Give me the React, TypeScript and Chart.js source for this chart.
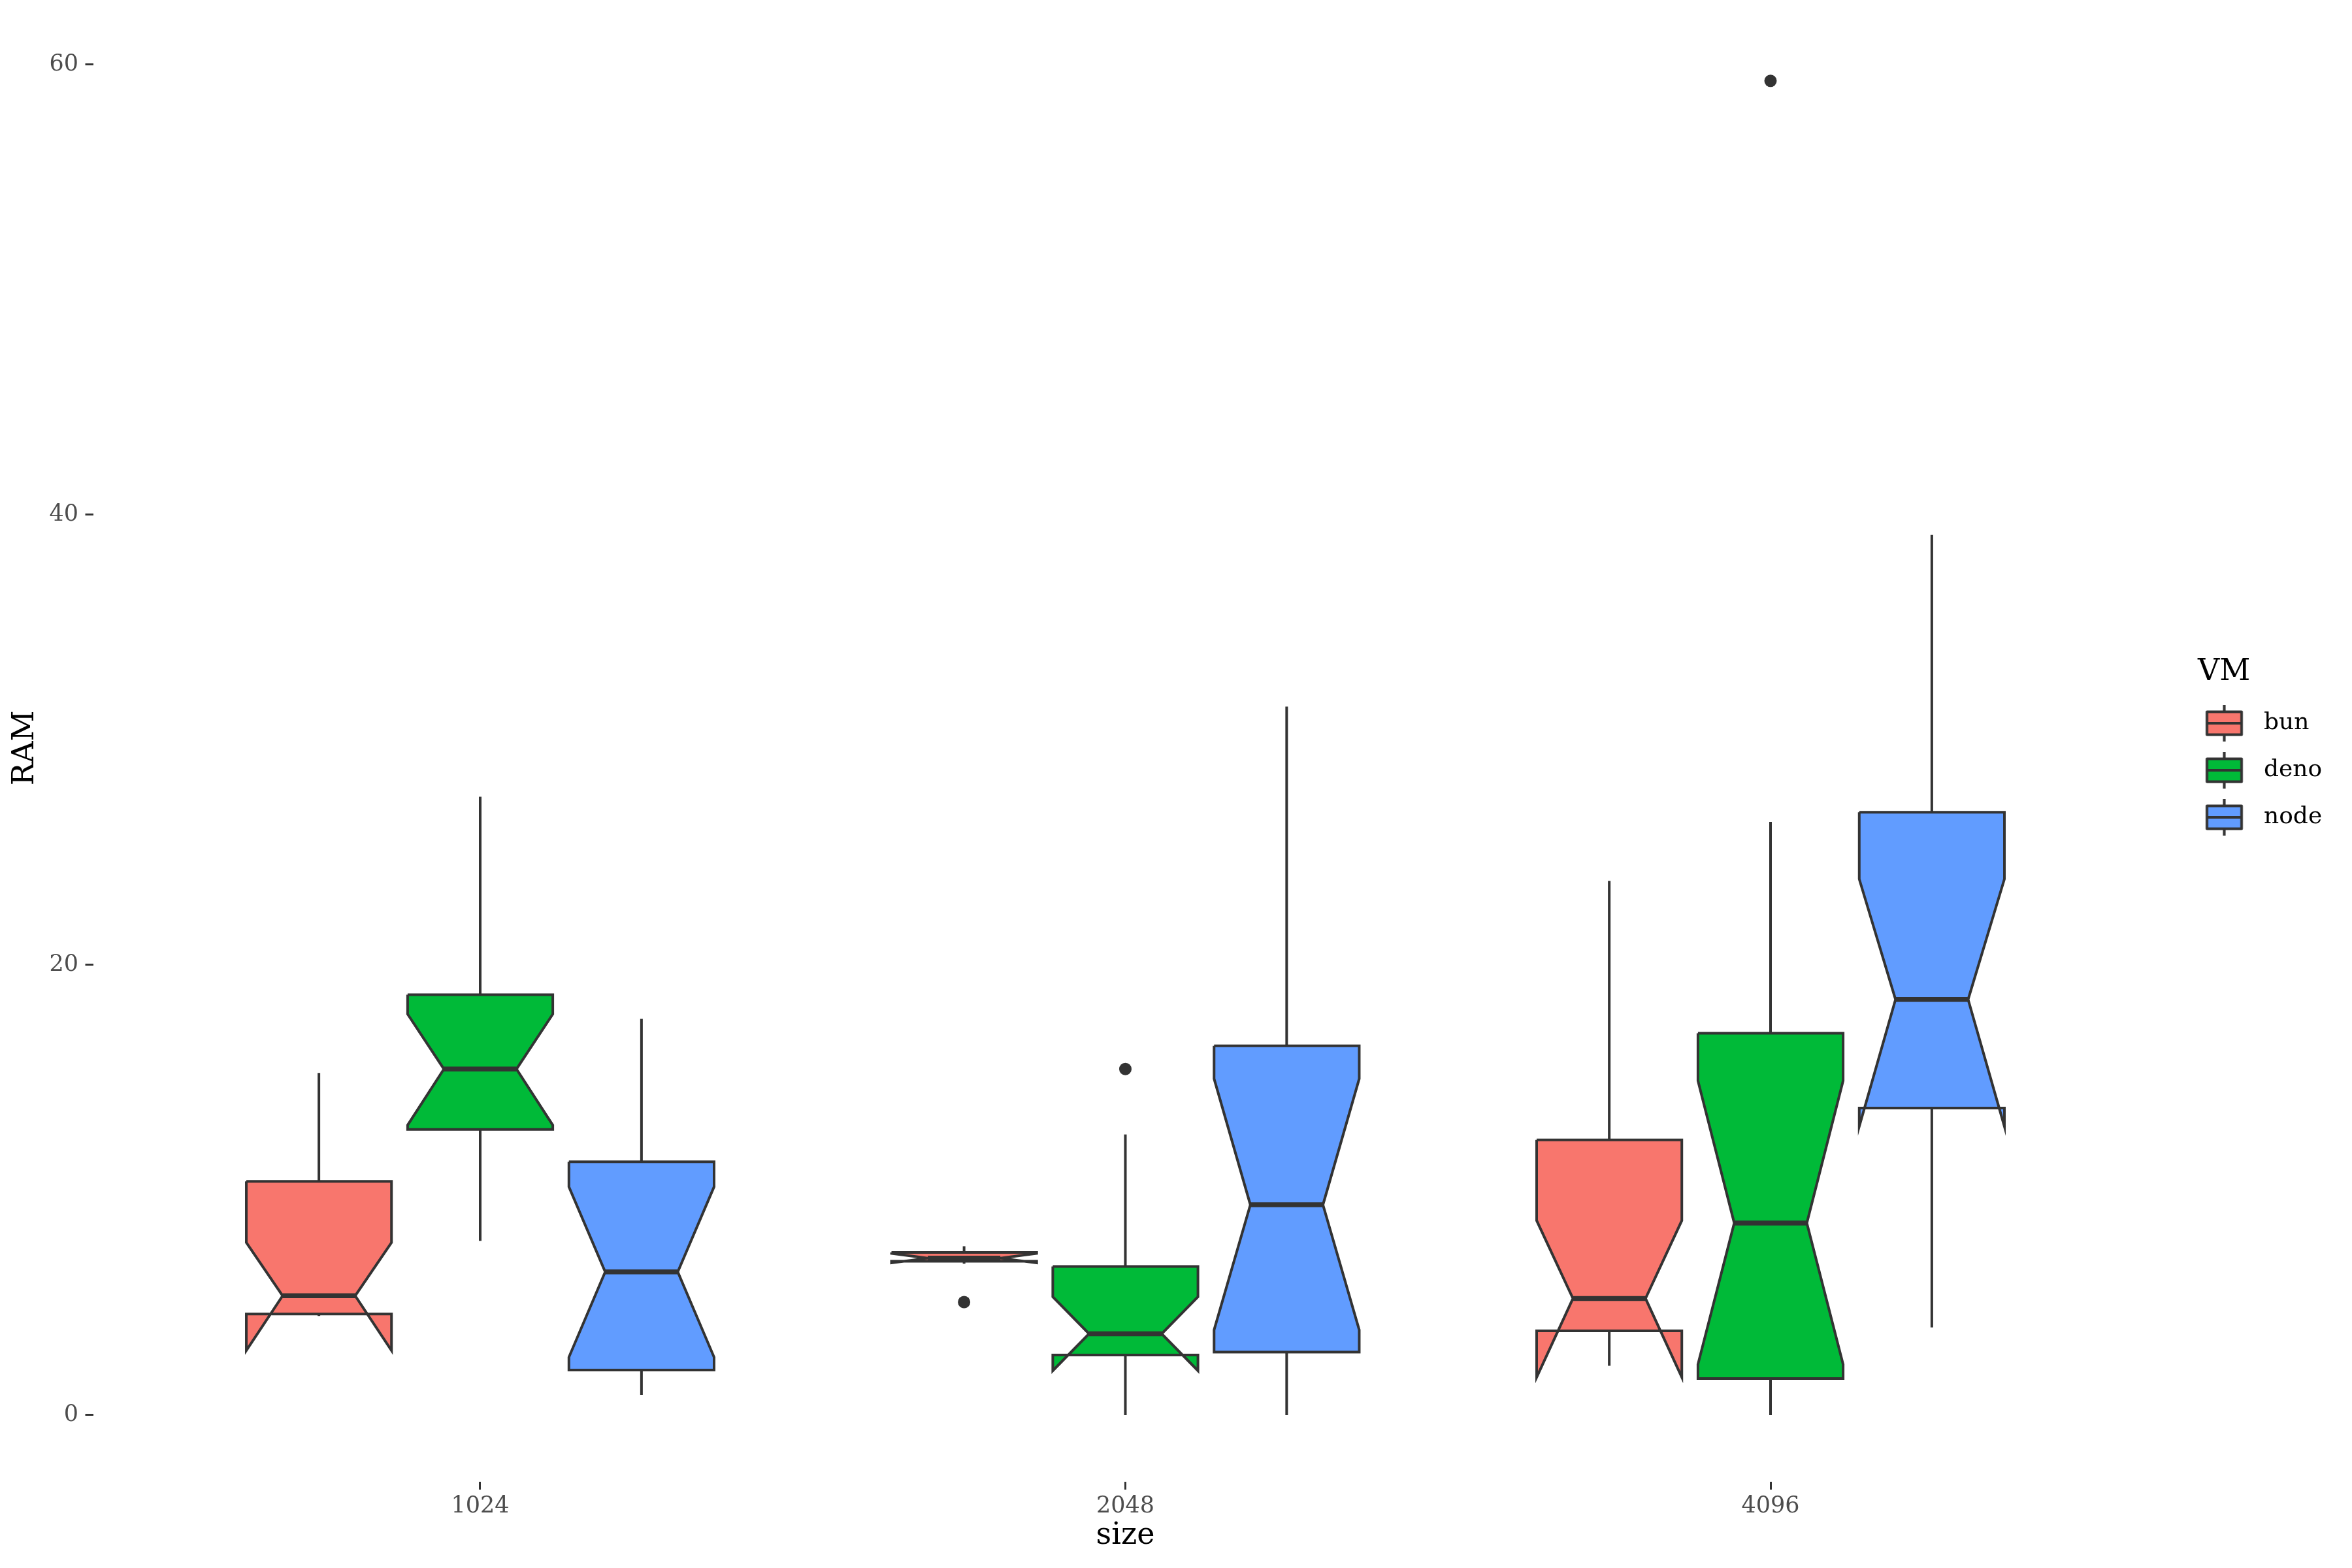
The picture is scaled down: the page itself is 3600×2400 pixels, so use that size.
import React, { useEffect, useRef } from 'react';
import { Chart, registerables } from 'chart.js';

Chart.register(...registerables);

// ---------- data ----------
const categories = ['1024', '2048', '4096'];
const vmNames = ['bun', 'deno', 'node'];
const vmColors = ['#F8766D', '#00BA38', '#619CFF'];
const yTickValues = [0, 20, 40, 60];

// bun
const bunLow = [4.40, 6.72, 2.19];
const bunQ1 = [4.49, 6.83, 3.74];
const bunMedian = [5.30, 6.97, 5.18];
const bunQ3 = [10.38, 7.22, 12.22];
const bunHigh = [15.2, 7.5, 23.73];
const bunNotchLow = [2.87, 6.76, 1.68];
const bunNotchHigh = [7.66, 7.18, 8.64];
const bunOutliers = [[], [5.02], []];

// deno
const denoLow = [7.74, 0, 0];
const denoQ1 = [12.69, 2.67, 1.62];
const denoMedian = [15.37, 3.61, 8.53];
const denoQ3 = [18.67, 6.60, 16.96];
const denoHigh = [27.47, 12.46, 26.35];
const denoNotchLow = [12.88, 1.97, 2.25];
const denoNotchHigh = [17.81, 5.25, 14.85];
const denoOutliers = [[], [15.37], [59.27]];

// node
const nodeLow = [0.9, 0, 3.89];
const nodeQ1 = [2.0, 2.80, 13.64];
const nodeMedian = [6.36, 9.34, 18.46];
const nodeQ3 = [11.25, 16.40, 26.78];
const nodeHigh = [17.6, 31.47, 39.1];
const nodeNotchLow = [2.57, 3.78, 12.82];
const nodeNotchHigh = [10.14, 14.94, 23.81];
const nodeOutliers = [[], [], []];

const vmStats = [
  { low: bunLow, q1: bunQ1, med: bunMedian, q3: bunQ3, high: bunHigh, nLo: bunNotchLow, nHi: bunNotchHigh, out: bunOutliers },
  { low: denoLow, q1: denoQ1, med: denoMedian, q3: denoQ3, high: denoHigh, nLo: denoNotchLow, nHi: denoNotchHigh, out: denoOutliers },
  { low: nodeLow, q1: nodeQ1, med: nodeMedian, q3: nodeQ3, high: nodeHigh, nLo: nodeNotchLow, nHi: nodeNotchHigh, out: nodeOutliers },
];

// ---------- layout / style constants ----------
const DODGE = 0.25;
const HALF_W = 0.1125;
const EDGE = '#333333';
const FONT = 'DejaVu Serif';
const AREA_LEFT = 142.5;
const AREA_RIGHT = 3302.5;
const AREA_TOP = 21.6;
const X_AXIS_H = 132;
const LEG_FONT = 36;
const LEG_TITLE_FONT = 46;
const LEG_PAD = 36;
const LEG_BOXW = 108.5;
const TITLE_CENTER_X = 3405;

function makeGlyph(color: string): HTMLCanvasElement {
  const cw = 92;
  const ch = 64;
  const cv = document.createElement('canvas');
  cv.width = cw;
  cv.height = ch;
  const g = cv.getContext('2d') as CanvasRenderingContext2D;
  const cx = cw / 2 + 11.75;
  const cy = ch / 2;
  g.strokeStyle = EDGE;
  g.lineWidth = 4;
  g.beginPath();
  g.moveTo(cx, cy - 28);
  g.lineTo(cx, cy - 17.5);
  g.moveTo(cx, cy + 17.5);
  g.lineTo(cx, cy + 28);
  g.stroke();
  g.fillStyle = color;
  g.beginPath();
  g.rect(cx - 26.5, cy - 17.5, 53, 35);
  g.fill();
  g.lineJoin = 'round';
  g.stroke();
  g.beginPath();
  g.moveTo(cx - 26.5, cy);
  g.lineTo(cx + 26.5, cy);
  g.stroke();
  return cv;
}

function buildDatasets() {
  const ds: any[] = [];
  vmStats.forEach((s, vi) => {
    const color = vmColors[vi];
    categories.forEach((_, ci) => {
      const c = ci + 1 + (vi - 1) * DODGE;
      const l = c - HALF_W;
      const r = c + HALF_W;
      const nl = c - HALF_W / 2;
      const nr = c + HALF_W / 2;
      ds.push({
        type: 'line',
        label: `${vmNames[vi]} upper whisker`,
        data: [{ x: c, y: s.q3[ci] }, { x: c, y: s.high[ci] }],
        borderColor: EDGE,
        borderWidth: 4,
        pointRadius: 0,
        fill: false,
        order: 3,
      });
      ds.push({
        type: 'line',
        label: `${vmNames[vi]} lower whisker`,
        data: [{ x: c, y: s.low[ci] }, { x: c, y: s.q1[ci] }],
        borderColor: EDGE,
        borderWidth: 4,
        pointRadius: 0,
        fill: false,
        order: 3,
      });
      ds.push({
        type: 'line',
        label: `${vmNames[vi]} box`,
        data: [
          { x: l, y: s.q3[ci] },
          { x: l, y: s.nHi[ci] },
          { x: nl, y: s.med[ci] },
          { x: l, y: s.nLo[ci] },
          { x: l, y: s.q1[ci] },
          { x: r, y: s.q1[ci] },
          { x: r, y: s.nLo[ci] },
          { x: nr, y: s.med[ci] },
          { x: r, y: s.nHi[ci] },
          { x: r, y: s.q3[ci] },
          { x: l, y: s.q3[ci] },
        ],
        fill: 'shape',
        backgroundColor: color,
        borderColor: EDGE,
        borderWidth: 4,
        borderJoinStyle: 'miter',
        pointRadius: 0,
        tension: 0,
        order: 2,
      });
      ds.push({
        type: 'line',
        label: `${vmNames[vi]} median`,
        data: [{ x: nl, y: s.med[ci] }, { x: nr, y: s.med[ci] }],
        borderColor: EDGE,
        borderWidth: 7.5,
        borderCapStyle: 'butt',
        pointRadius: 0,
        fill: false,
        order: 1,
      });
    });
    const pts: { x: number; y: number }[] = [];
    s.out.forEach((vals: number[], ci: number) => {
      const c = ci + 1 + (vi - 1) * DODGE;
      vals.forEach((v) => pts.push({ x: c, y: v }));
    });
    ds.push({
      type: 'scatter',
      label: `${vmNames[vi]} outliers`,
      data: pts,
      backgroundColor: EDGE,
      borderWidth: 0,
      pointRadius: 9.5,
      showLine: false,
      order: 0,
    });
  });
  return ds;
}

export default function App() {
  const ref = useRef<HTMLCanvasElement | null>(null);

  useEffect(() => {
    if (!ref.current) return;
    const glyphs = vmColors.map((c) => makeGlyph(c));

    // legend geometry (measured text so the legend box has a known width)
    const mctx = document.createElement('canvas').getContext('2d') as CanvasRenderingContext2D;
    mctx.font = `${LEG_FONT}px ${FONT}`;
    const maxText = Math.max(...vmNames.map((n) => mctx.measureText(n).width));
    const legendW = LEG_PAD + LEG_BOXW + LEG_FONT / 2 + maxText + 10;
    const padRight = 3600 - AREA_RIGHT - legendW;
    mctx.font = `${LEG_TITLE_FONT}px ${FONT}`;
    const spaceW = mctx.measureText(' ').width;
    const trail = Math.max(0, Math.round((2 * (AREA_RIGHT + legendW / 2 - TITLE_CENTER_X)) / spaceW));
    const legendTitle = 'VM' + ' '.repeat(trail);

    const allVals: number[] = [];
    vmStats.forEach((s) => {
      allVals.push(...s.low, ...s.high);
      s.out.forEach((o: number[]) => allVals.push(...o));
    });
    const dMin = Math.min(...allVals);
    const dMax = Math.max(...allVals);
    const pad = (dMax - dMin) * 0.05;

    const chart = new Chart(ref.current, {
      type: 'line',
      data: { datasets: buildDatasets() },
      options: {
        responsive: false,
        animation: false,
        devicePixelRatio: 1,
        events: [],
        layout: { padding: { left: 0, top: AREA_TOP, right: padRight, bottom: 0 } },
        scales: {
          x: {
            type: 'linear',
            min: 0.4,
            max: categories.length + 0.6,
            afterBuildTicks: (s: any) => {
              s.ticks = categories.map((_, i) => ({ value: i + 1 }));
            },
            afterFit: (s: any) => {
              s.height = X_AXIS_H;
              s.paddingLeft = 0;
              s.paddingRight = 0;
            },
            ticks: {
              callback: (v: any) => categories[Math.round(Number(v)) - 1] ?? '',
              font: { family: FONT, size: 35 },
              color: '#4D4D4D',
              padding: 5,
              maxRotation: 0,
              autoSkip: false,
            },
            grid: {
              display: true,
              drawOnChartArea: false,
              drawTicks: true,
              tickLength: 12,
              color: EDGE,
              lineWidth: 3,
            },
            border: { display: false },
            title: {
              display: true,
              text: 'size',
              color: '#000000',
              font: { family: FONT, size: 46, lineHeight: 1.2 },
              padding: { top: 0, bottom: 21.4 },
            },
          },
          y: {
            type: 'linear',
            min: dMin - pad,
            max: dMax + pad,
            afterBuildTicks: (s: any) => {
              s.ticks = yTickValues.map((v) => ({ value: v }));
            },
            afterFit: (s: any) => {
              s.width = AREA_LEFT;
              s.paddingTop = 0;
              s.paddingBottom = 0;
            },
            ticks: {
              font: { family: FONT, size: 35 },
              color: '#4D4D4D',
              padding: 10.5,
            },
            grid: {
              display: true,
              drawOnChartArea: false,
              drawTicks: true,
              tickLength: 12,
              color: EDGE,
              lineWidth: 3,
            },
            border: { display: false },
            title: {
              display: true,
              text: 'RAM',
              color: '#000000',
              font: { family: FONT, size: 46, lineHeight: 1.2 },
              padding: { top: 11.4, bottom: 0 },
            },
          },
        },
        plugins: {
          tooltip: { enabled: false },
          legend: {
            display: true,
            position: 'right',
            align: 'start',
            onClick: () => {},
            title: {
              display: true,
              text: legendTitle,
              position: 'center',
              color: '#000000',
              font: { family: FONT, size: LEG_TITLE_FONT, lineHeight: 1 },
              padding: { top: 984.4, bottom: 1 },
            },
            labels: {
              usePointStyle: true,
              pointStyleWidth: LEG_BOXW,
              padding: LEG_PAD,
              color: '#000000',
              font: { family: FONT, size: LEG_FONT },
              generateLabels: () =>
                vmNames.map((n, i) => ({
                  text: n,
                  pointStyle: glyphs[i] as any,
                  fillStyle: 'rgba(0,0,0,0)',
                  strokeStyle: 'rgba(0,0,0,0)',
                  lineWidth: 0,
                  hidden: false,
                  fontColor: '#000000',
                  datasetIndex: 0,
                })),
            },
          },
        },
      } as any,
    });
    return () => chart.destroy();
  }, []);

  return (
    <div style={{ position: 'fixed', left: 0, top: 0, width: 3600, height: 2400, background: '#ffffff' }}>
      <canvas ref={ref} width={3600} height={2400} style={{ display: 'block', width: 3600, height: 2400 }} />
    </div>
  );
}
